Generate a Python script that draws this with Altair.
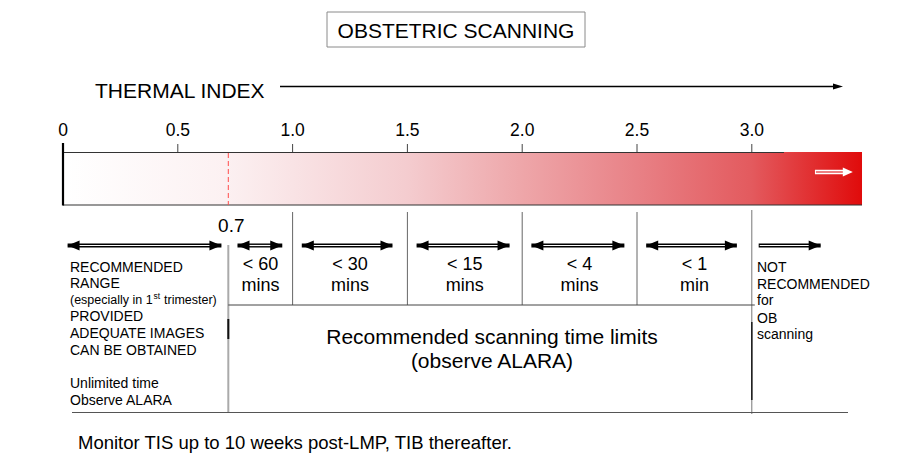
import altair as alt
import pandas as pd

# ---------------- data ----------------
tick_values = [0.0, 0.5, 1.0, 1.5, 2.0, 2.5, 3.0]
tick_labels = ["0", "0.5", "1.0", "1.5", "2.0", "2.5", "3.0"]
threshold_value = 0.72
threshold_label = "0.7"
bar_end = 3.48
band_lo = [0.72, 1.0, 1.5, 2.0, 2.5]
band_hi = [1.0, 1.5, 2.0, 2.5, 3.0]
limit_top = ["< 60", "< 30", "< 15", "< 4", "< 1"]
limit_bottom = ["mins", "mins", "mins", "mins", "min"]
arrow_start = [0.02, 0.76, 1.04, 1.54, 2.04, 2.54]
arrow_end = [0.69, 0.955, 1.435, 1.945, 2.445, 2.935]
open_arrow_start = [3.03]
open_arrow_end = [3.30]
grad_ti = [0.0, 0.7, 1.0, 1.5, 2.0, 2.5, 3.0, 3.48]
grad_colors = ["#ffffff", "#fcf1f2", "#f9e3e5", "#f4cccf", "#eea6a9",
               "#e88186", "#e35a5e", "#e00b0b"]
left_lines = ["RECOMMENDED", "RANGE", "PROVIDED", "ADEQUATE IMAGES",
              "CAN BE OBTAINED", "Unlimited time", "Observe ALARA"]
especially = ["(especially in 1", "st", "trimester)"]
right_lines = ["NOT", "RECOMMENDED", "for", "OB", "scanning"]
center_lines = ["Recommended scanning time limits", "(observe ALARA)"]
title_text = "OBSTETRIC SCANNING"
axis_title = "THERMAL INDEX"
footnote = "Monitor TIS up to 10 weeks post-LMP, TIB thereafter."

# ---------------- layout ----------------
W, H = 881, 447
PX = 229.6          # pixels per TI unit
X0 = 55             # chart pixel of TI = 0
M = 8               # page margin
FONT = "Liberation Sans"

xs = alt.Scale(domain=[-X0 / PX, (W - X0) / PX], nice=False, zero=False)


def X(f):
    return alt.X(f, type="quantitative", scale=xs, axis=None)


def X2(f):
    return alt.X2(f)


def px(v):
    return alt.value(v - M)


one = pd.DataFrame({"k": [0]})
RIGHT = "M-1,-0.83L1,0L-1,0.83Z"
LEFT = "M1,-0.83L-1,0L1,0.83Z"

layers = []

# title box
layers.append(alt.Chart(one).mark_rect(fill="white", stroke="#8a8a8a", strokeWidth=1).encode(
    x=px(327), x2=px(585), y=px(12), y2=px(47)))
layers.append(alt.Chart(one).mark_text(text=title_text, font=FONT, fontSize=21, align="center",
                                       baseline="alphabetic", color="black").encode(x=px(456), y=px(37.5)))

# thermal index label + arrow
layers.append(alt.Chart(one).mark_text(text=axis_title, font=FONT, fontSize=21, align="left",
                                       baseline="alphabetic", color="black").encode(x=px(95), y=px(97.5)))
layers.append(alt.Chart(one).mark_rule(color="black", strokeWidth=1.5).encode(
    x=px(280), x2=px(836), y=px(86.5)))
layers.append(alt.Chart(one).mark_point(shape="M-1,-0.6L1,0L-1,0.6Z", filled=True, size=100,
                                        color="black", opacity=1, strokeWidth=0).encode(
    x=px(838), y=px(86.5)))

# ticks
tdf = pd.DataFrame({"v": tick_values, "lab": tick_labels})
layers.append(alt.Chart(tdf).mark_text(font=FONT, fontSize=17.5, align="center", baseline="alphabetic",
                                       color="black").encode(x=X("v"), y=px(136), text="lab:N"))
layers.append(alt.Chart(tdf).mark_rule(color="#444", strokeWidth=1).encode(
    x=X("v"), y=px(144), y2=px(152)))

# gradient bar
grad = alt.LinearGradient(
    gradient="linear",
    stops=[alt.GradientStop(color=c, offset=t / bar_end) for t, c in zip(grad_ti, grad_colors)],
    x1=0, x2=1, y1=0, y2=0)
bdf = pd.DataFrame({"a": [0.0], "b": [bar_end], "top": [3.14]})
layers.append(alt.Chart(bdf).mark_rect(fill=grad, strokeWidth=0).encode(
    x=X("a"), x2=X2("b"), y=px(152), y2=px(205)))
layers.append(alt.Chart(bdf).mark_rule(color="#333", strokeWidth=1.2).encode(
    x=X("a"), x2=X2("top"), y=px(152.5)))
layers.append(alt.Chart(bdf).mark_rule(color="#333", strokeWidth=1.2).encode(
    x=X("a"), x2=X2("b"), y=px(205)))
layers.append(alt.Chart(bdf).mark_rule(color="black", strokeWidth=2.2).encode(
    x=X("a"), y=px(143), y2=px(205.5)))

# threshold dashed line & label
thdf = pd.DataFrame({"v": [threshold_value], "lab": [threshold_label]})
layers.append(alt.Chart(thdf).mark_rule(color="#ff4d4d", strokeWidth=1, strokeDash=[5, 3]).encode(
    x=X("v"), y=px(153), y2=px(205)))
layers.append(alt.Chart(thdf).mark_text(font=FONT, fontSize=19, align="center", baseline="alphabetic",
                                        color="black", xOffset=3).encode(x=X("v"), y=px(232), text="lab:N"))

# white arrow inside bar
wdf = pd.DataFrame({"a": [3.275], "b": [3.44]})
layers.append(alt.Chart(wdf).mark_rule(color="white", strokeWidth=4.5, x2Offset=-8).encode(
    x=X("a"), x2=X2("b"), y=px(172)))
layers.append(alt.Chart(wdf).mark_rule(color="#e23a3d", strokeWidth=1.3, xOffset=1, x2Offset=-9).encode(
    x=X("a"), x2=X2("b"), y=px(172)))
layers.append(alt.Chart(wdf).mark_point(shape="M-1,-0.9L1,0L-1,0.9Z", filled=True, size=100,
                                        color="white", opacity=1, strokeWidth=0, xOffset=-5).encode(
    x=X("b"), y=px(172)))

# grid lines below bar
inner = pd.DataFrame({"v": band_lo[1:]})
layers.append(alt.Chart(inner).mark_rule(color="#666", strokeWidth=1).encode(
    x=X("v"), y=px(212), y2=px(305)))
layers.append(alt.Chart(thdf).mark_rule(color="#aaa", strokeWidth=2).encode(
    x=X("v"), y=px(245), y2=px(412)))
layers.append(alt.Chart(thdf).mark_rule(color="#111", strokeWidth=2).encode(
    x=X("v"), y=px(319), y2=px(339)))
edge = pd.DataFrame({"v": [band_hi[-1]]})
layers.append(alt.Chart(edge).mark_rule(color="#777", strokeWidth=1).encode(
    x=X("v"), y=px(210), y2=px(414)))
layers.append(alt.Chart(edge).mark_rule(color="#222", strokeWidth=1.6).encode(
    x=X("v"), y=px(322), y2=px(400)))
hdf = pd.DataFrame({"a": [threshold_value], "b": [3.013]})
layers.append(alt.Chart(hdf).mark_rule(color="#444", strokeWidth=1).encode(
    x=X("a"), x2=X2("b"), y=px(305)))
layers.append(alt.Chart(one).mark_rule(color="#555", strokeWidth=1.2).encode(
    x=px(72), x2=px(848), y=px(412.5)))

# double-headed arrows
adf = pd.DataFrame({"a": arrow_start, "b": arrow_end})
AY = 245.5
layers.append(alt.Chart(adf).mark_rule(color="black", strokeWidth=4, strokeCap="butt").encode(
    x=X("a"), x2=X2("b"), y=px(AY)))
layers.append(alt.Chart(adf).mark_rule(color="white", strokeWidth=1.2, strokeCap="butt",
                                       xOffset=10, x2Offset=-10).encode(
    x=X("a"), x2=X2("b"), y=px(AY)))
layers.append(alt.Chart(adf).mark_point(shape=LEFT, filled=True, size=144, color="black", opacity=1,
                                        strokeWidth=0, xOffset=6).encode(x=X("a"), y=px(AY)))
layers.append(alt.Chart(adf).mark_point(shape=RIGHT, filled=True, size=144, color="black", opacity=1,
                                        strokeWidth=0, xOffset=-6).encode(x=X("b"), y=px(AY)))
# one-way arrow
odf = pd.DataFrame({"a": open_arrow_start, "b": open_arrow_end})
layers.append(alt.Chart(odf).mark_rule(color="black", strokeWidth=4, strokeCap="butt").encode(
    x=X("a"), x2=X2("b"), y=px(AY)))
layers.append(alt.Chart(odf).mark_rule(color="white", strokeWidth=1.2, strokeCap="butt",
                                       xOffset=1, x2Offset=-10).encode(
    x=X("a"), x2=X2("b"), y=px(AY)))
layers.append(alt.Chart(odf).mark_point(shape=RIGHT, filled=True, size=144, color="black", opacity=1,
                                        strokeWidth=0, xOffset=-6).encode(x=X("b"), y=px(AY)))

# time-limit labels
ldf = pd.DataFrame({"c": [(a + b) / 2 for a, b in zip(band_lo, band_hi)],
                    "t1": limit_top, "t2": limit_bottom})
layers.append(alt.Chart(ldf).mark_text(font=FONT, fontSize=18, align="center", baseline="alphabetic",
                                       color="black").encode(x=X("c"), y=px(270), text="t1:N"))
layers.append(alt.Chart(ldf).mark_text(font=FONT, fontSize=18, align="center", baseline="alphabetic",
                                       color="black").encode(x=X("c"), y=px(291), text="t2:N"))

# left text block
left_y = [272, 287.5, 321, 338, 354.5, 388, 405]
ltdf = pd.DataFrame({"t": left_lines, "y": [v - M for v in left_y]})
layers.append(alt.Chart(ltdf).mark_text(font=FONT, fontSize=14, align="left", baseline="alphabetic",
                                        color="black").encode(
    x=px(70), y=alt.Y("y:Q", scale=None), text="t:N"))
esp_x = [70, 153.5, 164]
esp_y = [304, 299, 304]
esp_size = [12.5, 8.5, 12.5]
for t, xx, yy, fs in zip(especially, esp_x, esp_y, esp_size):
    layers.append(alt.Chart(one).mark_text(text=t, font=FONT, fontSize=fs, align="left",
                                           baseline="alphabetic", color="black").encode(
        x=px(xx), y=px(yy)))

# right text block
right_y = [272, 289, 305, 323, 339]
rtdf = pd.DataFrame({"t": right_lines, "y": [v - M for v in right_y]})
layers.append(alt.Chart(rtdf).mark_text(font=FONT, fontSize=14, align="left", baseline="alphabetic",
                                        color="black").encode(
    x=px(757), y=alt.Y("y:Q", scale=None), text="t:N"))

# centre text
center_y = [344, 368]
ctdf = pd.DataFrame({"t": center_lines, "y": [v - M for v in center_y]})
layers.append(alt.Chart(ctdf).mark_text(font=FONT, fontSize=21, align="center", baseline="alphabetic",
                                        color="black").encode(
    x=px(492), y=alt.Y("y:Q", scale=None), text="t:N"))

# footnote
layers.append(alt.Chart(one).mark_text(text=footnote, font=FONT, fontSize=18.5, align="left",
                                       baseline="alphabetic", color="black").encode(x=px(78), y=px(449)))

chart = alt.layer(*layers).properties(
    width=W, height=H, padding=0, autosize="none", background="white"
).configure_view(stroke=None)

chart.save("out.html", embed_options={"renderer": "svg", "actions": False})
